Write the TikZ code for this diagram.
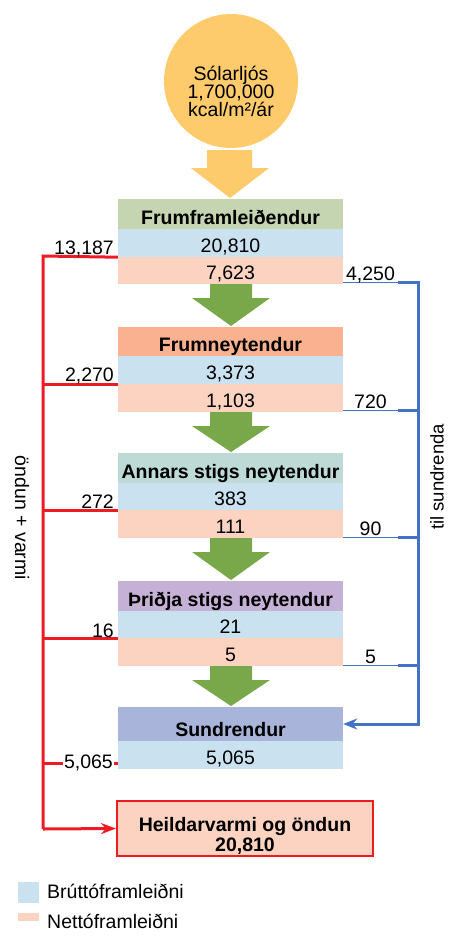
\documentclass[tikz,border=0pt]{standalone}
\usepackage{fontspec}
\setmainfont{Liberation Sans}
\usetikzlibrary{arrows.meta}
\definecolor{sunc}{HTML}{FDCB6B}
\definecolor{grossc}{HTML}{CAE1EF}
\definecolor{netc}{HTML}{FCD3C1}
\definecolor{hAc}{HTML}{C5D4B1}
\definecolor{hBc}{HTML}{F9B18F}
\definecolor{hCc}{HTML}{BEDAD6}
\definecolor{hDc}{HTML}{C6B1D6}
\definecolor{hEc}{HTML}{A9B4DA}
\definecolor{arrc}{HTML}{79A84B}
\definecolor{redc}{HTML}{ED1C24}
\definecolor{bluec}{HTML}{4472C4}
\newcommand\blkarrow[8]{%
  \fill[#1] (#2,#6) -- (#3,#6) -- (#3,#7) -- (#5,#7) -- ({(#4+#5)/2},#8) -- (#4,#7) -- (#2,#7) -- cycle;}
\begin{document}
\begin{tikzpicture}[x=1pt,y=-1pt,
  font=\fontsize{19.5}{20}\selectfont,
  cell/.style={rectangle, inner sep=0pt, minimum width=225pt, text depth=0pt},
  hdr/.style={cell, font=\fontsize{19.5}{20}\selectfont\bfseries},
  gross/.style={cell, fill=grossc},
  net/.style={cell, fill=netc},
  redl/.style={draw=redc, line width=3pt},
  bluel/.style={draw=bluec, line width=3pt},
  bluethin/.style={draw=bluec, line width=0.9pt},
  lbl/.style={inner sep=0pt}]
\useasboundingbox (0,0) rectangle (469,951);

% sun
\node[circle, fill=sunc, minimum size=134pt, inner sep=0pt] (sun) at (231,81) {};
\node[align=center, font=\fontsize{19.5}{18}\selectfont] (suntxt) at (231,91) {Sólarljós\\1,700,000\\kcal/m²/ár};
\blkarrow{sunc}{207}{252}{191}{269}{150}{168}{198}

% Frumframleiðendur
\node[hdr, fill=hAc, minimum height=30pt, text height=20pt] (p0) at (230.5,214) {Frumframleiðendur};
\node[gross, minimum height=28pt, text height=18pt] (p1) at (230.5,243) {20,810};
\node[net, minimum height=27pt, text height=17pt] (p2) at (230.5,270.5) {7,623};
\blkarrow{arrc}{210}{252}{192}{270}{284}{298}{326}

% Frumneytendur
\node[hdr, fill=hBc, minimum height=29pt, text height=19pt] (q0) at (230.5,341.5) {Frumneytendur};
\node[gross, minimum height=28pt, text height=18pt] (q1) at (230.5,370) {3,373};
\node[net, minimum height=28pt, text height=18pt] (q2) at (230.5,398) {1,103};
\blkarrow{arrc}{210}{252}{192}{270}{412}{426}{452}

% Annars stigs neytendur
\node[hdr, fill=hCc, minimum height=30pt, text height=20pt] (r0) at (230.5,468) {Annars stigs neytendur};
\node[gross, minimum height=27pt, text height=17pt] (r1) at (230.5,496.5) {383};
\node[net, minimum height=28pt, text height=18pt] (r2) at (230.5,524) {111};
\blkarrow{arrc}{210}{252}{192}{270}{538}{552}{580}

% Þriðja stigs neytendur
\node[hdr, fill=hDc, minimum height=30pt, text height=20pt] (t0) at (230.5,596) {Þriðja stigs neytendur};
\node[gross, minimum height=27pt, text height=17pt] (t1) at (230.5,624.5) {21};
\node[net, minimum height=28pt, text height=18pt] (t2) at (230.5,652) {5};
\blkarrow{arrc}{210}{252}{192}{270}{666}{680}{706}

% Sundrendur
\node[hdr, fill=hEc, minimum height=34pt, text height=24pt] (s0) at (230.5,724) {Sundrendur};
\node[gross, minimum height=28pt, text height=18pt] (s1) at (230.5,755) {5,065};

% Heildarvarmi
\node[rectangle, draw=redc, line width=2pt, fill=netc, minimum width=256pt, minimum height=55pt, inner sep=0pt] (heild) at (245,828.5) {};
\node[align=center, font=\fontsize{19.5}{20}\selectfont\bfseries] (heildtxt) at (245,836) {Heildarvarmi og öndun\\20,810};

% red respiration lines
\coordinate (rA) at (43,256);
\coordinate (rB) at (43,829);
\coordinate (rE) at (118,763);
\draw[redl] (p1.south west) -- (rA) -- (rB);
\draw[redl, -{Stealth[length=15pt, width=11pt]}] (rB) -- (heild.west);
\draw[redl] (q1.south west) -- (q1.south west -| rA);
\draw[redl] (r1.south west) -- (r1.south west -| rA);
\draw[redl] (t1.south west) -- (t1.south west -| rA);
\draw[redl] (rE) -- (rE -| rA);
\node[lbl, anchor=base east] (l1) at (114,254) {13,187};
\node[lbl, anchor=base east] (l2) at (114,381) {2,270};
\node[lbl, anchor=base east] (l3) at (114,508) {272};
\node[lbl, anchor=base east, fill=white] (l4) at (114,637) {16};
\node[lbl, anchor=east, fill=white, inner xsep=1pt, text height=14pt, text depth=3pt] (l5) at (114,763) {5,065};

% blue decomposer lines
\coordinate (bB) at (418,724);
\draw[bluethin] ([yshift=2pt]p2.south east) -- ++(55,0) coordinate (bj1);
\draw[bluethin] ([yshift=2pt]q2.south east) -- ++(55,0) coordinate (bj2);
\draw[bluethin] ([yshift=1pt]r2.south east) -- ++(55,0) coordinate (bj3);
\draw[bluethin] ([yshift=1pt]t2.south east) -- ++(55,0) coordinate (bj4);
\draw[bluel, -{Stealth[length=14pt, width=11pt]}] (bj1) -| (bB) -- (s0.east);
\draw[bluel] (bj2) -- (bj2 -| bB);
\draw[bluel] (bj3) -- (bj3 -| bB);
\draw[bluel] (bj4) -- (bj4 -| bB);
\node[lbl, anchor=base] (b1) at (370.5,280) {4,250};
\node[lbl, anchor=base] (b2) at (370.5,408) {720};
\node[lbl, anchor=base] (b3) at (370.5,535) {90};
\node[lbl, anchor=base] (b4) at (370.5,663) {5};

% rotated labels
\node[rotate=-90] (lleft) at (22,518) {öndun + varmi};
\node[rotate=90, font=\fontsize{18.5}{20}\selectfont] (lright) at (437,477) {til sundrenda};

% legend
\node[rectangle, fill=grossc, minimum width=21pt, minimum height=21pt, inner sep=0pt] (lg1) at (28.5,892.5) {};
\node[lbl, anchor=base west] (lg1t) at (47,898) {Brúttóframleiðni};
\node[rectangle, fill=netc, minimum width=21pt, minimum height=8pt, inner sep=0pt] (lg2) at (28.5,917) {};
\node[lbl, anchor=base west] (lg2t) at (47,928) {Nettóframleiðni};
\end{tikzpicture}
\end{document}
